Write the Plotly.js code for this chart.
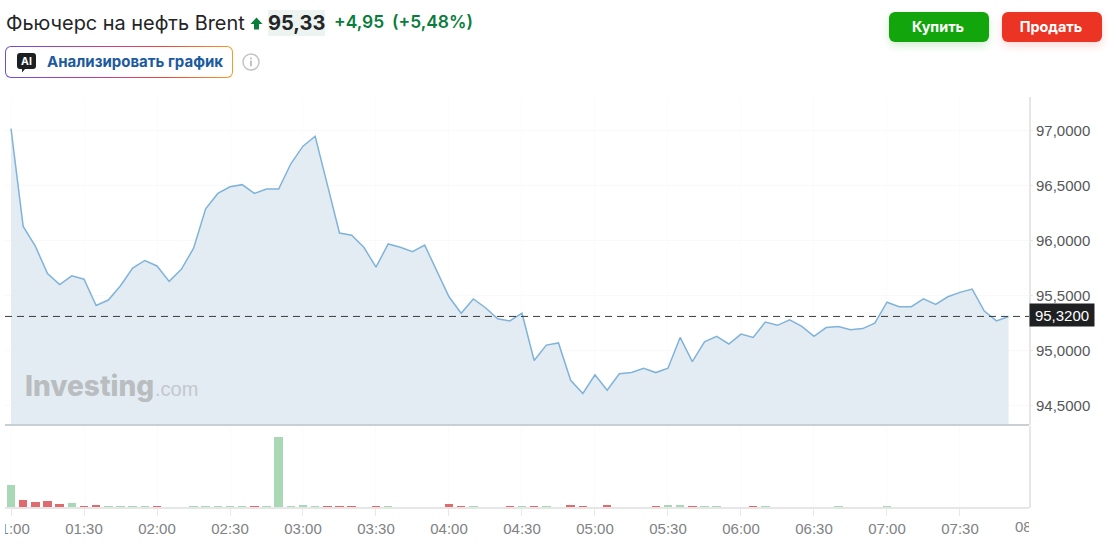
<!DOCTYPE html>
<html lang="ru">
<head>
<meta charset="utf-8">
<script src="https://cdn.plot.ly/plotly-3.0.1.min.js"></script>
<style>
html,body{margin:0;padding:0;background:#fff;width:1117px;height:549px;overflow:hidden;font-family:Inter,"Noto Sans",sans-serif}
#chart{position:absolute;left:0;top:0;width:1117px;height:549px}
.abs{position:absolute;white-space:nowrap}
#title{left:6px;top:11px;font-size:19.9px;line-height:24px;color:#232526}
#arrow{left:250px;top:17px}
#price{left:268px;top:10px;width:57px;height:26px;line-height:26px;text-align:center;background:#edf3f0;font-size:20px;font-weight:700;color:#232526}
#chg{left:334px;top:11px;font-size:17.4px;line-height:22px;font-weight:600;color:#0a7d3c}
#pct{left:392px;top:11px;font-size:17.4px;line-height:22px;font-weight:600;color:#0a7d3c}
.btn{top:12px;width:100px;height:30px;line-height:30px;border-radius:6px;color:#fff;font-size:14.4px;font-weight:700;text-align:center;text-indent:-2px}
#buy{left:889px;background:#12a50c;box-shadow:0 4px 8px rgba(18,165,12,.18)}
#sell{left:1002px;background:#eb3423;box-shadow:0 4px 8px rgba(235,52,35,.18)}
#ai{left:5px;top:46px;width:228px;height:32px;border-radius:6px;padding:1px;box-sizing:border-box;background:linear-gradient(90deg,#6a4fd8,#c0409a 40%,#e8483c 70%,#f59a23)}
#aiin{width:100%;height:100%;background:#fff;border-radius:5px;position:relative}
#aitxt{left:41px;top:5px;font-size:15px;line-height:19px;font-weight:700;color:#1c5a9e}
#info{left:242px;top:53px}
.mask{position:absolute;background:#fff}
</style>
</head>
<body>
<div id="chart"></div>
<div class="mask" style="left:0;top:508px;width:5px;height:41px"></div>
<div class="mask" style="left:1029px;top:508px;width:88px;height:41px"></div>
<div class="abs" id="title">Фьючерс на нефть Brent</div>
<svg class="abs" id="arrow" width="13" height="13" viewBox="0 0 13 13"><path d="M6.5 0.5 12.5 7H9V12.5H4V7H0.5Z" fill="#0a7d3c"/></svg>
<div class="abs" id="price">95,33</div>
<div class="abs" id="chg">+4,95</div>
<div class="abs" id="pct">(+5,48%)</div>
<div class="abs btn" id="buy">Купить</div>
<div class="abs btn" id="sell">Продать</div>
<div class="abs" id="ai"><div id="aiin">
<svg class="abs" style="left:11px;top:6px" width="19" height="20" viewBox="0 0 19 20"><path d="M3 0H16a3 3 0 0 1 3 3V13a3 3 0 0 1-3 3H8L5 19.5V16H3a3 3 0 0 1-3-3V3a3 3 0 0 1 3-3Z" fill="#1d1f21"/><text x="9.5" y="12" text-anchor="middle" font-family="Inter" font-weight="700" font-size="10.5" fill="#fff">AI</text></svg>
<div class="abs" id="aitxt">Анализировать график</div></div></div>
<svg class="abs" id="info" width="18" height="18" viewBox="0 0 18 18"><circle cx="9" cy="9" r="8" fill="none" stroke="#c4c4c4" stroke-width="1.5"/><rect x="8.2" y="7.6" width="1.6" height="5.6" fill="#b4b4b4"/><rect x="8.2" y="4.6" width="1.6" height="1.7" fill="#b4b4b4"/></svg>
<script>
var times = ["01:00","01:05","01:10","01:15","01:20","01:25","01:30","01:35","01:40","01:45","01:50","01:55",
"02:00","02:05","02:10","02:15","02:20","02:25","02:30","02:35","02:40","02:45","02:50","02:55",
"03:00","03:05","03:10","03:15","03:20","03:25","03:30","03:35","03:40","03:45","03:50","03:55",
"04:00","04:05","04:10","04:15","04:20","04:25","04:30","04:35","04:40","04:45","04:50","04:55",
"05:00","05:05","05:10","05:15","05:20","05:25","05:30","05:35","05:40","05:45","05:50","05:55",
"06:00","06:05","06:10","06:15","06:20","06:25","06:30","06:35","06:40","06:45","06:50","06:55",
"07:00","07:05","07:10","07:15","07:20","07:25","07:30","07:35","07:40","07:45","07:50"];
var prices = [97.02,96.13,95.95,95.70,95.60,95.68,95.65,95.41,95.46,95.59,95.75,95.82,
95.77,95.63,95.74,95.93,96.29,96.43,96.49,96.51,96.43,96.47,96.47,96.70,
96.86,96.95,96.51,96.07,96.05,95.94,95.76,95.97,95.94,95.90,95.96,95.73,
95.49,95.34,95.47,95.39,95.29,95.27,95.34,94.91,95.05,95.07,94.73,94.61,
94.78,94.64,94.79,94.80,94.84,94.80,94.84,95.12,94.90,95.08,95.13,95.06,
95.15,95.12,95.26,95.23,95.28,95.22,95.13,95.21,95.22,95.19,95.20,95.25,
95.44,95.40,95.40,95.47,95.42,95.49,95.53,95.56,95.36,95.27,95.31];
var volumes = [22.3,7.3,4.7,6,3.3,4.3,1,2.3,0.7,0.7,0.7,0.7,
0.8,0,0,0.7,0.7,0.7,0.7,0.7,1,0.7,70,0.7,
2,0.8,1,1,1,0,1,0.7,0,0,0,0,
3.5,1,0.7,0,0,1,0.7,1,0.7,0,2,1,
0,2.3,0,0,0,1,2,2,1,0.8,0.8,0,
0,1,0.8,0,0,0,0,0,0.7,0,0,0,
0.8,0,0,0,0,0,0,0,0,0,0];
var volumeUp = [1,0,0,0,0,1,0,0,1,1,1,1,
0,1,1,1,1,1,1,1,0,1,1,1,
1,1,0,0,0,1,0,1,1,1,1,1,
0,0,1,1,1,0,1,0,1,1,0,0,
1,0,1,1,1,0,1,1,0,1,1,1,
1,0,1,1,1,1,1,1,1,1,1,1,
1,1,1,1,1,1,1,1,1,1,1];
var lastPrice = 95.32;
var priceTicks = [94.5,95,95.5,96,96.5,97];
var day = "2024-01-01 ";
var xs = times.map(function(t){return day+t;});
var GREEN="#a8d8b5", RED="#e06b6e";
var traces = [
 {type:"scatter",mode:"lines",x:xs,y:prices,xaxis:"x",yaxis:"y",
  line:{color:"#80b3d9",width:1.5},fill:"tozeroy",fillcolor:"#e3ecf3",hoverinfo:"skip"},
 {type:"bar",x:xs,y:volumes,xaxis:"x",yaxis:"y2",width:209000,
  marker:{color:volumeUp.map(function(u){return u?GREEN:RED;}),line:{width:0}},hoverinfo:"skip"}
];
var tickFont={family:"Liberation Sans, Arial, sans-serif",size:15,color:"#808284"};
var layout = {
 width:1117,height:549,showlegend:false,paper_bgcolor:"#fff",plot_bgcolor:"#fff",
 margin:{l:5,r:88,t:97,b:42,pad:0},separators:", ",bargap:0,
 xaxis:{type:"date",anchor:"y2",range:[day+"00:57:32",day+"07:58:22"],
  tick0:day+"01:00",dtick:1800000,tickformat:"%H:%M",ticklabeloverflow:"allow",
  ticks:"outside",ticklen:7,tickcolor:"#e8e8e8",tickfont:tickFont,
  showgrid:true,gridcolor:"#fbfbfb",gridwidth:1,zeroline:false,
  showline:true,linecolor:"#e6e6e6",linewidth:1.5},
 yaxis:{domain:[0.2,1],side:"right",anchor:"x",range:[94.323,97.3075],
  tickvals:priceTicks,tickformat:".4f",ticks:"outside",ticklen:2,tickcolor:"#e8e8e8",
  tickfont:{family:"Liberation Sans, Arial, sans-serif",size:15,color:"#555759"},
  showgrid:true,gridcolor:"#f9f9f9",zeroline:false,
  showline:true,linecolor:"#e6e6e6",linewidth:2},
 yaxis2:{domain:[0,0.1976],side:"right",anchor:"x",range:[0,81],showticklabels:false,ticks:"",
  showgrid:false,zeroline:false,showline:true,linecolor:"#e6e6e6",linewidth:2},
 shapes:[
  {type:"line",xref:"paper",x0:0,x1:1,yref:"y",ysizemode:"pixel",yanchor:lastPrice,y0:-1,y1:-1,layer:"above",
   line:{color:"#3a3a3a",width:1,dash:"7px,5px"}},
  {type:"line",xref:"paper",x0:0,x1:1,yref:"paper",y0:0.2,y1:0.2,layer:"above",
   line:{color:"#c9d0d4",width:2}}
 ],
 annotations:[
  {xref:"paper",yref:"y",x:1,xanchor:"left",y:lastPrice,yanchor:"middle",xshift:0,yshift:0,
   text:"95,3200",showarrow:false,width:60,height:18,align:"center",bgcolor:"#1e2022",borderpad:2,
   font:{family:"Liberation Sans, Arial, sans-serif",size:15,color:"#fff"}},
  {xref:"paper",yref:"paper",x:(1034-5)/1024,xanchor:"center",y:0,yanchor:"top",yshift:-9,
   text:"08:00",showarrow:false,font:tickFont},
  {xref:"paper",yref:"paper",x:(23-5)/1024,xanchor:"left",y:(507-386)/410,yanchor:"middle",
   text:"Investing",showarrow:false,font:{family:"Inter, sans-serif",weight:800,size:28,color:"#b9bdc0"}},
  {xref:"paper",yref:"paper",x:(153-5)/1024,xanchor:"left",y:(507-389)/410,yanchor:"middle",
   text:".com",showarrow:false,font:{family:"Liberation Sans, Arial, sans-serif",size:20,color:"#c3c8cc"}}
 ]
};
Plotly.newPlot("chart",traces,layout,{displayModeBar:false,staticPlot:true});
</script>
</body>
</html>
